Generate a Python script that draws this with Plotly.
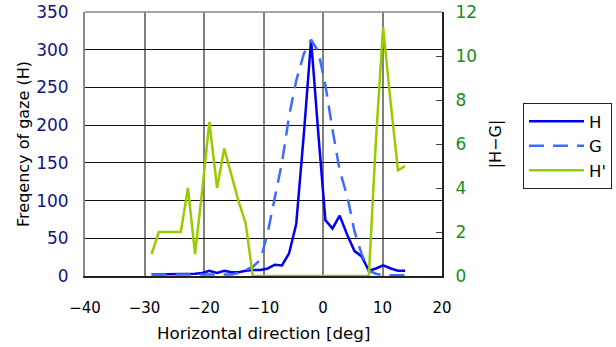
import plotly.graph_objects as go

# Horizontal direction [deg]
x_deg = [-28.8, -27.6, -26.4, -25.1, -23.9, -22.7, -21.5, -20.3, -19.1, -17.8,
         -16.6, -15.4, -14.2, -13.0, -11.8, -10.5, -9.3, -8.1, -6.9, -5.7,
         -4.5, -3.2, -2.0, -0.8, 0.4, 1.6, 2.8, 4.1, 5.3, 6.5,
         7.7, 8.9, 10.1, 11.4, 12.6, 13.8]

H = [2, 2, 2, 3, 3, 3, 3, 4, 7, 4,
     7, 5, 5, 7, 8, 8, 10, 15, 14, 30,
     69, 190, 313, 190, 74, 63, 80, 54, 33, 26,
     7, 10, 14, 10, 7, 7]

G = [2, 2, 2, 2, 2, 2, 2, 2, 2, 2,
     2, 2, 4, 8, 12, 22, 57, 104, 150, 212,
     259, 295, 313, 298, 253, 194, 140, 105, 59, 29,
     7, 3, 1, 1, 1, 1]

H_prime = [1, 2, 2, 2, 2, 4, 1, 3.9, 7, 4,
           5.8, 4.6, 3.4, 2.4, 0, 0, 0, 0, 0, 0,
           0, 0, 0, 0, 0, 0, 0, 0, 0, 0,
           0, 6.2, 11.3, 7.8, 4.8, 5.0]

x_ticks = [-40, -30, -20, -10, 0, 10, 20]
y_left_ticks = [0, 50, 100, 150, 200, 250, 300, 350]
y_right_ticks = [0, 2, 4, 6, 8, 10, 12]

FONT = "DejaVu Sans"

fig = go.Figure()
fig.add_trace(go.Scatter(x=x_deg, y=H, name="H", mode="lines",
                         line=dict(color="#0000ee", width=2.5)))
fig.add_trace(go.Scatter(x=x_deg, y=G, name="G", mode="lines",
                         line=dict(color="#3a6cff", width=2.5, dash="15px,9px")))
fig.add_trace(go.Scatter(x=x_deg, y=H_prime, name="H'", mode="lines", yaxis="y2",
                         line=dict(color="#99cc00", width=2.5)))

fig.update_layout(
    width=616, height=347,
    margin=dict(l=85, r=174, t=12, b=71, autoexpand=False),
    paper_bgcolor="white", plot_bgcolor="white",
    font=dict(family=FONT, size=15, color="black"),
    xaxis=dict(range=[-40, 20], tickvals=x_ticks, showgrid=True, automargin=False,
               gridcolor="#808080", gridwidth=1.5, zeroline=False,
               showline=True, linecolor="#222222", linewidth=2, mirror=False,
               ticks="", ticklabelstandoff=17,
               tickfont=dict(family=FONT, size=15, color="black")),
    yaxis=dict(range=[0, 350], tickvals=y_left_ticks, showgrid=True, automargin=False,
               gridcolor="#111111", gridwidth=1, zeroline=False,
               showline=True, linecolor="#888888", linewidth=2,
               ticks="", ticklabelstandoff=11,
               tickfont=dict(family=FONT, size=17, color="#141480"),
               title=dict(text="Freqency of gaze (H)", standoff=3,
                          font=dict(family=FONT, size=16, color="black"))),
    yaxis2=dict(range=[0, 12], tickvals=y_right_ticks, overlaying="y", side="right",
                showgrid=False, zeroline=False, automargin=False,
                showline=True, linecolor="#222222", linewidth=2,
                ticks="inside", ticklen=6, tickcolor="#444444", tickwidth=1,
                ticklabelstandoff=8,
                tickfont=dict(family=FONT, size=17, color="#1a8c1a"),
                title=dict(text="|H−G|", standoff=14,
                           font=dict(family=FONT, size=16, color="black"))),
    legend=dict(x=1.227, y=0.655, xanchor="left", yanchor="top",
                bordercolor="#222222", borderwidth=1, bgcolor="white",
                font=dict(family=FONT, size=16.5, color="black"),
                itemwidth=55, tracegroupgap=0),
    showlegend=True,
)

# x-axis title
fig.add_annotation(text="Horizontal direction [deg]", xref="paper", yref="paper",
                   x=0.5, y=-0.216, xanchor="center", yanchor="middle",
                   showarrow=False, font=dict(family=FONT, size=16.7, color="black"))

# top border of plot area
fig.add_shape(type="line", xref="paper", yref="paper", x0=0, x1=1, y0=1, y1=1,
              line=dict(color="#888888", width=1.5))

fig.write_html("out.html",
               config={"displayModeBar": False},
               post_script="document.body.style.margin='0';document.body.style.overflow='hidden';")
